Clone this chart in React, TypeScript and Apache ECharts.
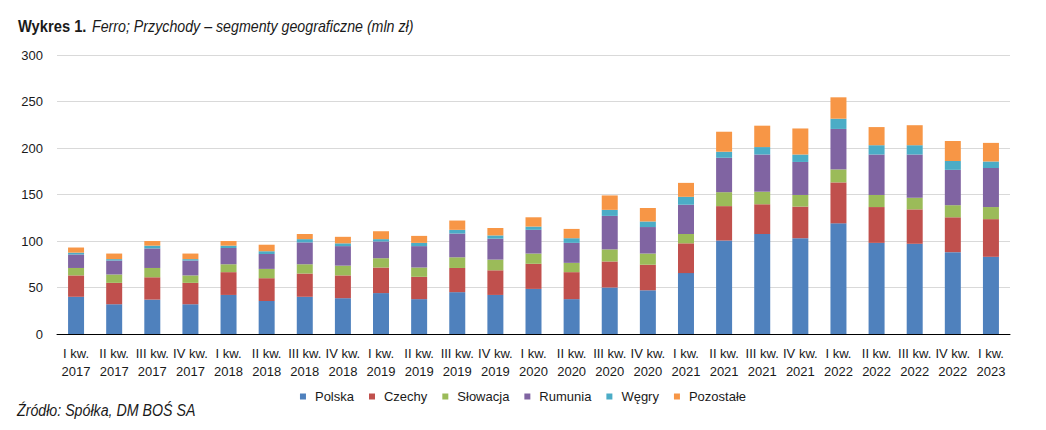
import React, { useEffect, useRef } from "react";
import * as echarts from "echarts";

const categories = [
  "I kw.\n2017", "II kw.\n2017", "III kw.\n2017", "IV kw.\n2017",
  "I kw.\n2018", "II kw.\n2018", "III kw.\n2018", "IV kw.\n2018",
  "I kw.\n2019", "II kw.\n2019", "III kw.\n2019", "IV kw.\n2019",
  "I kw.\n2020", "II kw.\n2020", "III kw.\n2020", "IV kw.\n2020",
  "I kw.\n2021", "II kw.\n2021", "III kw.\n2021", "IV kw.\n2021",
  "I kw.\n2022", "II kw.\n2022", "III kw.\n2022", "IV kw.\n2022",
  "I kw.\n2023",
];

const polska = [40, 32, 37, 32, 42, 35.5, 40, 38.5, 44, 37.5, 45, 42, 48.5, 37.5, 50, 47, 65.5, 100.5, 107.5, 103, 119, 98, 97, 88, 83];
const czechy = [23, 23, 24, 23, 24.5, 24.5, 25, 24.5, 27.5, 24, 26, 26.5, 27, 29, 28, 27.5, 32, 37, 32, 34, 44, 38.5, 37, 37.5, 40.5];
const slowacja = [8, 9, 10, 8, 8.5, 10, 10, 10.5, 10, 10, 11.5, 11.5, 11, 10, 13, 12, 10, 15, 13.5, 12.5, 14, 13, 12.5, 13, 13];
const rumunia = [14.5, 15, 21, 16, 17.5, 16, 23.5, 21, 18, 23, 25.5, 22.5, 25.5, 21.5, 36, 28.5, 31.5, 37, 40, 35.5, 43.5, 43.5, 46.5, 38, 42];
const wegry = [2, 1.5, 3, 1.5, 2.5, 3, 3.5, 3, 2.5, 3.5, 4, 3.5, 3.5, 5, 6.5, 6, 8.5, 6.5, 8, 8, 11, 10, 10, 9.5, 7];
const pozostale = [5.5, 6, 5, 6, 5, 7, 5.5, 7, 8.5, 7.5, 10, 8, 10, 10, 15.5, 14.5, 15, 21.5, 23, 28, 23, 19.5, 21.5, 21.5, 20];

const seriesNames = ["Polska", "Czechy", "Słowacja", "Rumunia", "Węgry", "Pozostałe"];
const seriesColors = ["#4F81BD", "#C0504D", "#9BBB59", "#8064A2", "#4BACC6", "#F79646"];
const seriesData = [polska, czechy, slowacja, rumunia, wegry, pozostale];

const yTicks = { min: 0, max: 300, interval: 50 };

const titleBold = "Wykres 1.";
const titleItalic = "Ferro; Przychody – segmenty geograficzne (mln zł)";
const sourceText = "Źródło: Spółka, DM BOŚ SA";

const FONT = "'Liberation Sans', Arial, sans-serif";
const TEXT_COLOR = "#1a1a1a";

export default function App() {
  const ref = useRef<HTMLDivElement>(null);
  useEffect(() => {
    document.body.style.margin = "0";
    const chart = echarts.init(ref.current!, null, { renderer: "svg" });
    chart.setOption({
      animation: false,
      backgroundColor: "#ffffff",
      textStyle: { fontFamily: FONT, color: TEXT_COLOR },
      graphic: [
        {
          type: "text",
          x: 18,
          y: 26,
          scaleX: 0.92,
          style: {
            text: titleBold,
            font: `bold 16px ${FONT}`,
            fill: TEXT_COLOR,
            verticalAlign: "middle",
          },
        },
        {
          type: "text",
          x: 92,
          y: 26,
          scaleX: 0.889,
          style: {
            text: titleItalic,
            font: `italic 16px ${FONT}`,
            fill: TEXT_COLOR,
            verticalAlign: "middle",
          },
        },
        {
          type: "text",
          x: 17,
          y: 410,
          scaleX: 0.888,
          style: {
            text: sourceText,
            font: `italic 16px ${FONT}`,
            fill: TEXT_COLOR,
            verticalAlign: "middle",
          },
        },
      ],
      legend: {
        top: 385,
        left: "center",
        itemWidth: 6,
        itemHeight: 6,
        itemGap: 15,
        icon: "rect",
        textStyle: { fontFamily: FONT, fontSize: 13, color: TEXT_COLOR, padding: [0, 0, 0, 4] },
        data: seriesNames,
      },
      grid: { left: 57, right: 36, top: 55, bottom: 96, containLabel: false },
      xAxis: {
        type: "category",
        data: categories,
        axisLine: { lineStyle: { color: "#000", width: 1 } },
        axisTick: { show: false },
        axisLabel: {
          interval: 0,
          fontFamily: FONT,
          fontSize: 13,
          color: TEXT_COLOR,
          lineHeight: 18,
          margin: 10,
        },
      },
      yAxis: {
        type: "value",
        min: yTicks.min,
        max: yTicks.max,
        interval: yTicks.interval,
        axisLine: { show: false },
        axisTick: { show: false },
        splitLine: { lineStyle: { color: "#d9d9d9", width: 1 } },
        axisLabel: { fontFamily: FONT, fontSize: 13, color: TEXT_COLOR, margin: 14 },
      },
      series: seriesNames.map((name, i) => ({
        name,
        type: "bar",
        stack: "total",
        barWidth: 16,
        data: seriesData[i],
        itemStyle: { color: seriesColors[i] },
      })),
    });
    return () => chart.dispose();
  }, []);
  return (
    <div
      ref={ref}
      style={{ position: "absolute", left: 0, top: 0, width: 1046, height: 430 }}
    />
  );
}
